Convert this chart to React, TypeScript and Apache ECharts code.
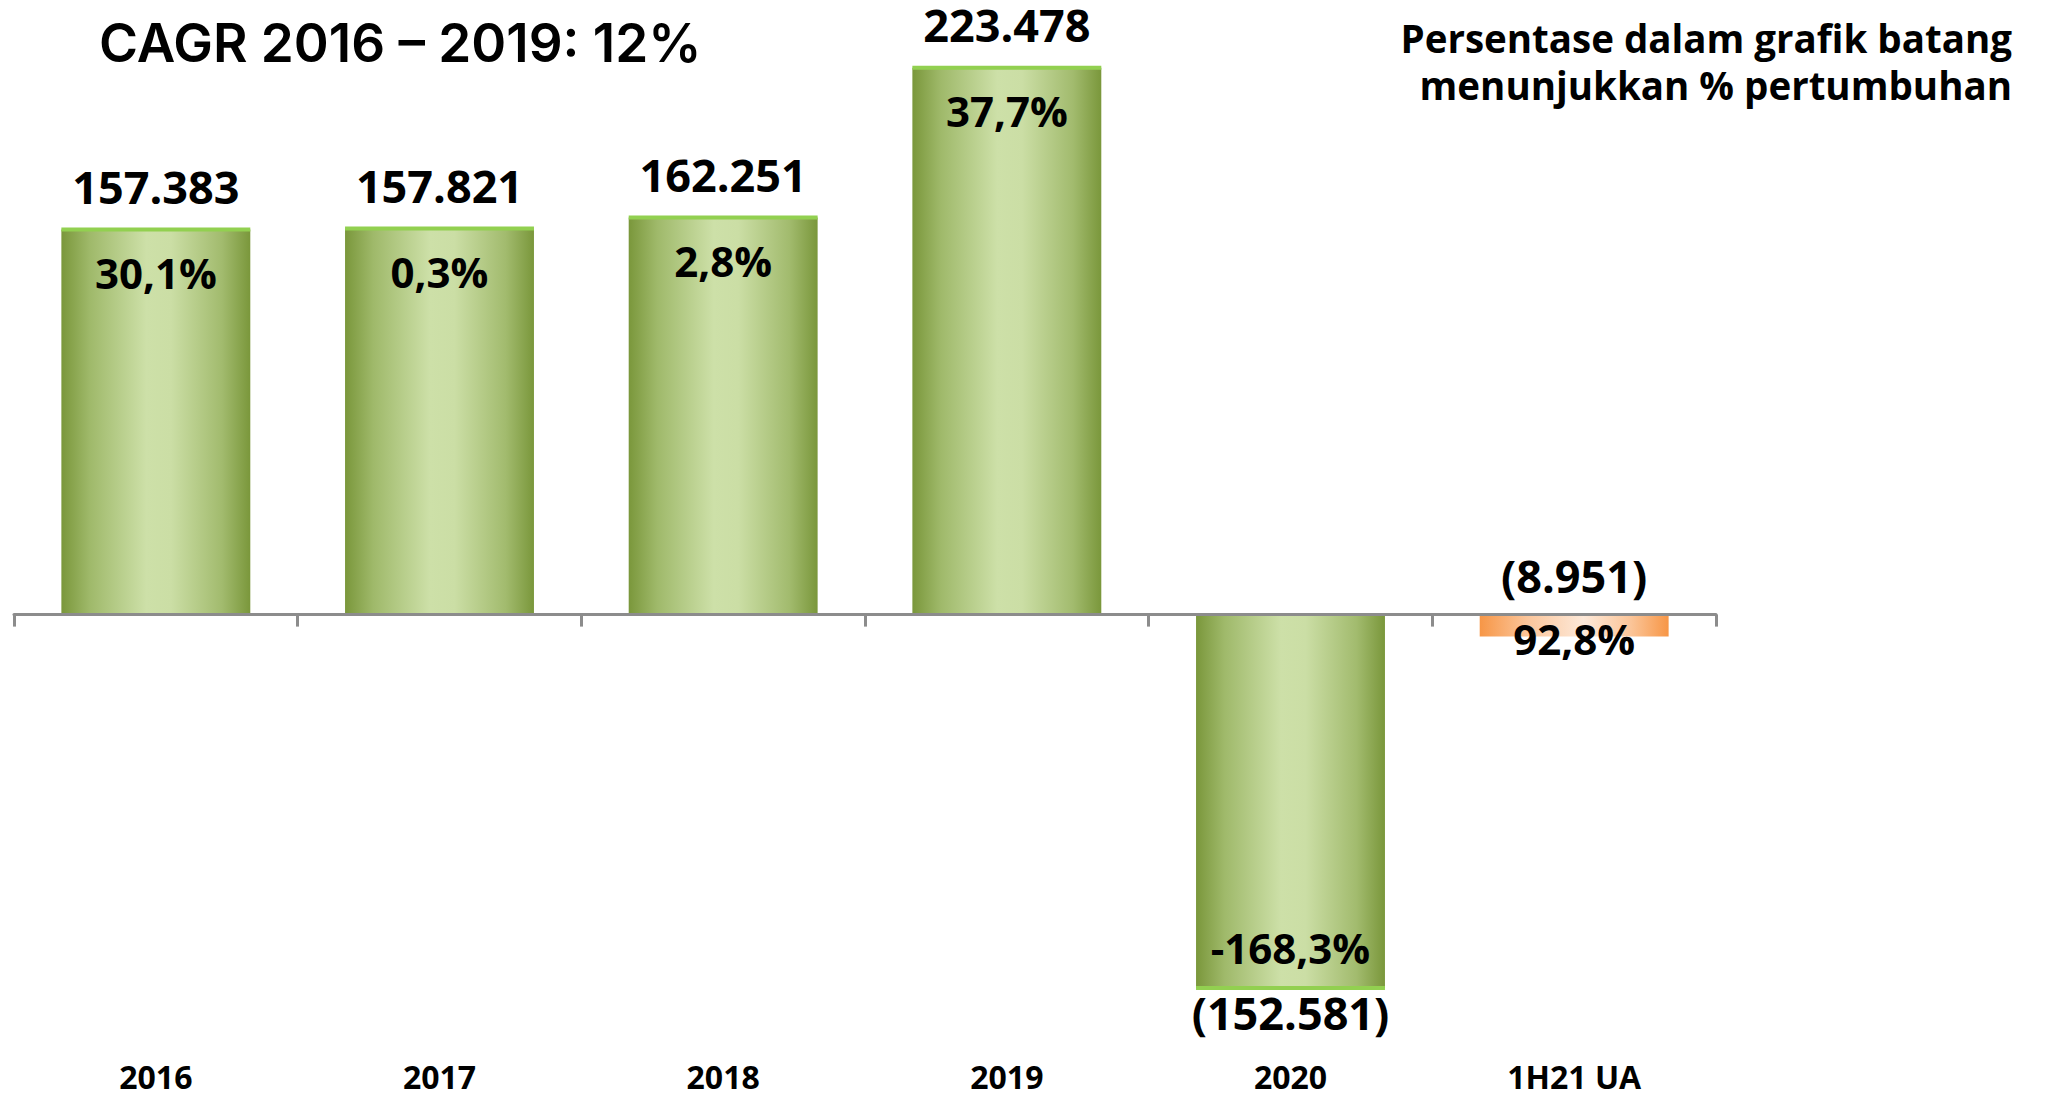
import React, { useEffect, useRef } from "react";
import * as echarts from "echarts";

// ---- data ----
const categories = ["2016", "2017", "2018", "2019", "2020", "1H21 UA"];
const values = [157383, 157821, 162251, 223478, -152581, -8951];
const growth = [30.1, 0.3, 2.8, 37.7, -168.3, 92.8];
const titleText = "CAGR 2016 \u2013 2019: 12%";
const noteLines = ["Persentase dalam grafik batang", "menunjukkan % pertumbuhan"];

// ---- styling ----
const BAR_RATIO = 0.666;
const FONT = '"Open Sans", "Noto Sans", sans-serif';
const AXIS_GRAY = "#8c8c8c";
const CAP_GREEN = "#92D050";

const greenGrad = {
  type: "linear", x: 0, y: 0, x2: 1, y2: 0,
  colorStops: [
    { offset: 0, color: "#7a973b" },
    { offset: 0.15, color: "#9fb96a" },
    { offset: 0.45, color: "#cde0a8" },
    { offset: 0.58, color: "#cbdea5" },
    { offset: 0.85, color: "#a2bb6e" },
    { offset: 1, color: "#7a973b" },
  ],
};
const orangeGrad = {
  type: "linear", x: 0, y: 0, x2: 1, y2: 0,
  colorStops: [
    { offset: 0, color: "#f79646" },
    { offset: 0.25, color: "#fbc59a" },
    { offset: 0.55, color: "#fde9d9" },
    { offset: 0.8, color: "#fbc599" },
    { offset: 1, color: "#f79646" },
  ],
};

const isUnaudited = (i: number) => categories[i].indexOf("UA") >= 0;
const fmtValue = (v: number) => {
  const s = Math.abs(v).toString().replace(/\B(?=(\d{3})+(?!\d))/g, ".");
  return v < 0 ? `(${s})` : s;
};
const fmtPct = (p: number) => p.toFixed(1).replace(".", ",") + "%";

export default function App() {
  const ref = useRef<HTMLDivElement>(null);
  useEffect(() => {
    if (!ref.current) return;
    const chart = echarts.init(ref.current, null, { renderer: "svg" });
    const option: any = {
      animation: false,
      backgroundColor: "#ffffff",
      grid: {
        left: 14,
        width: 1702,
        top: 27.3,
        height: 1003.3,
        containLabel: false,
        outerBoundsMode: "none",
      },
      xAxis: {
        type: "category",
        data: categories,
        z: 5,
        axisLine: { show: true, onZero: true, lineStyle: { color: AXIS_GRAY, width: 3 } },
        axisTick: { show: true, length: 12, lineStyle: { color: AXIS_GRAY, width: 3 } },
        axisLabel: {
          margin: 46,
          verticalAlign: "middle",
          lineHeight: 30,
          fontSize: 32,
          fontWeight: "bold",
          fontFamily: FONT,
          color: "#000",
        },
        splitLine: { show: false },
      },
      yAxis: {
        type: "value",
        min: -170000,
        max: 240000,
        show: false,
        splitLine: { show: false },
      },
      series: [
        {
          type: "bar",
          barWidth: (BAR_RATIO * 100).toFixed(1) + "%",
          data: values.map((v, i) => ({
            value: v,
            itemStyle: { color: isUnaudited(i) ? orangeGrad : greenGrad },
          })),
          z: 2,
        },
        {
          type: "custom",
          z: 10,
          data: values.map((v, i) => [i, v]),
          encode: { x: 0, y: 1 },
          renderItem: (params: any, api: any) => {
            const idx = api.value(0);
            const v = api.value(1);
            const p = api.coord([idx, v]);
            const z = api.coord([idx, 0]);
            const bw = api.size([1, 0])[0] * BAR_RATIO;
            const len = Math.abs(p[1] - z[1]);
            const children: any[] = [];
            if (!isUnaudited(idx)) {
              children.push({
                type: "rect",
                shape: { x: p[0] - bw / 2, y: p[1] - 2, width: bw, height: 4 },
                style: { fill: CAP_GREEN },
              });
            }
            let vy: number;
            let py: number;
            if (v >= 0) {
              vy = p[1] - 43;
              py = p[1] + 43;
            } else if (len > 60) {
              vy = p[1] + 25;
              py = p[1] - 40;
            } else {
              vy = z[1] - 39;
              py = p[1] + 2;
            }
            children.push({
              type: "text",
              x: p[0],
              y: vy,
              style: {
                text: fmtValue(v),
                fill: "#000",
                fontSize: 45,
                fontWeight: "bold",
                fontFamily: FONT,
                align: "center",
                verticalAlign: "middle",
              },
            });
            children.push({
              type: "text",
              x: p[0],
              y: py,
              style: {
                text: fmtPct(growth[idx]),
                fill: "#000",
                fontSize: 42,
                fontWeight: "bold",
                fontFamily: FONT,
                align: "center",
                verticalAlign: "middle",
              },
            });
            return { type: "group", children };
          },
        },
      ],
      graphic: [
        {
          type: "text",
          x: 99,
          y: 43,
          style: {
            text: titleText,
            fill: "#000",
            fontSize: 53,
            fontWeight: 600,
            fontFamily: "Inter, Lato, sans-serif",
            align: "left",
            verticalAlign: "middle",
          },
        },
        {
          type: "text",
          x: 2012,
          y: 38,
          style: {
            text: noteLines[0],
            fill: "#000",
            fontSize: 38.5,
            fontWeight: "bold",
            fontFamily: FONT,
            align: "right",
            verticalAlign: "middle",
          },
        },
        {
          type: "text",
          x: 2012,
          y: 85,
          style: {
            text: noteLines[1],
            fill: "#000",
            fontSize: 38.5,
            fontWeight: "bold",
            fontFamily: FONT,
            align: "right",
            verticalAlign: "middle",
          },
        },
      ],
    };
    chart.setOption(option);
    return () => chart.dispose();
  }, []);
  return (
    <div
      ref={ref}
      style={{ position: "fixed", left: 0, top: 0, width: 2046, height: 1096, background: "#fff" }}
    />
  );
}
